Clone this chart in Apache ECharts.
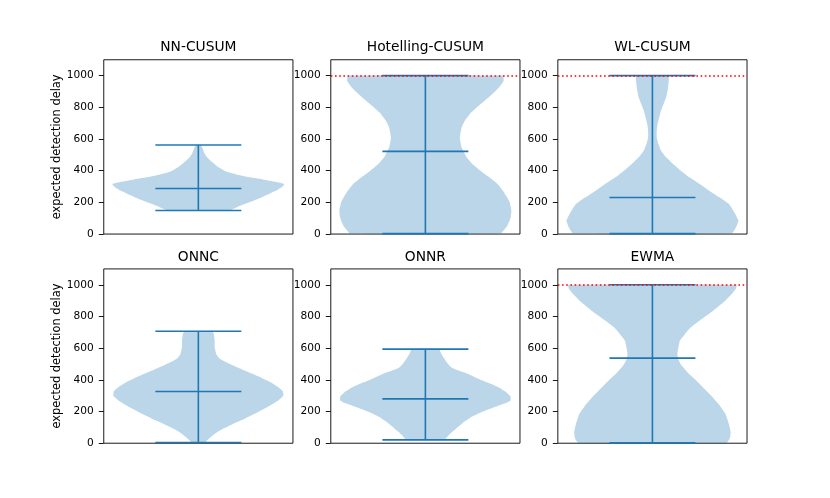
<!DOCTYPE html>
<html>
<head>
<meta charset="utf-8">
<script src="https://cdn.jsdelivr.net/npm/echarts@6/dist/echarts.min.js"></script>
<style>
  html, body { margin: 0; padding: 0; background: #ffffff; }
  #chart { width: 830px; height: 498px; }
</style>
</head>
<body>
<div id="chart"></div>
<script>
// Panel titles, in reading order
const titles = ['NN-CUSUM', 'Hotelling-CUSUM', 'WL-CUSUM', 'ONNC', 'ONNR', 'EWMA'];

// Extremes and means of each distribution
const minValues = [149, 3, 3, 5, 21, 2];
const maxValues = [562, 1000, 1000, 707, 594, 1000];
const meanValues = [288, 522, 231, 326, 280, 537];

// Horizon line, shown on the panels that hit it
const horizon = 1000;
const showHorizon = [false, true, true, false, false, true];

// Y tick labels
const yTicks = [0, 200, 400, 600, 800, 1000];

// Violin outlines: [delay, relative half width]
const nnCusum = [
  [149, 0.36], [160, 0.41], [173, 0.46], [194, 0.56], [215, 0.66], [236, 0.75], [258, 0.84],
  [278, 0.92], [300, 0.98], [316, 1.0], [330, 0.9], [345, 0.75], [366, 0.52], [393, 0.33],
  [420, 0.24], [450, 0.17], [480, 0.11], [510, 0.07], [540, 0.05], [562, 0.03]
];
const hotelling = [
  [3, 0.87], [50, 0.95], [100, 0.99], [147, 1.0], [200, 0.98], [232, 0.95], [275, 0.9],
  [316, 0.84], [360, 0.74], [400, 0.64], [440, 0.55], [484, 0.48], [550, 0.42], [610, 0.4],
  [670, 0.42], [716, 0.46], [760, 0.52], [800, 0.6], [850, 0.71], [895, 0.8], [935, 0.87],
  [968, 0.91], [1000, 0.9]
];
const wlCusum = [
  [3, 0.92], [40, 0.97], [84, 1.0], [130, 0.96], [189, 0.89], [232, 0.78], [274, 0.66],
  [316, 0.55], [358, 0.43], [400, 0.33], [442, 0.24], [484, 0.16], [526, 0.1], [568, 0.07],
  [610, 0.05], [652, 0.05], [695, 0.06], [737, 0.08], [779, 0.1], [821, 0.13], [863, 0.16],
  [916, 0.18], [968, 0.19], [1000, 0.19]
];
const onnc = [
  [5, 0.08], [17, 0.1], [50, 0.17], [80, 0.25], [110, 0.36], [143, 0.49], [185, 0.65],
  [227, 0.8], [270, 0.93], [301, 0.99], [330, 0.98], [354, 0.93], [385, 0.84], [417, 0.72],
  [450, 0.58], [480, 0.45], [510, 0.33], [533, 0.25], [560, 0.21], [606, 0.19], [650, 0.19],
  [690, 0.18], [707, 0.16]
];
const onnr = [
  [21, 0.22], [50, 0.27], [80, 0.33], [122, 0.42], [164, 0.53], [200, 0.67], [227, 0.8],
  [250, 0.92], [270, 0.99], [295, 0.99], [322, 0.94], [350, 0.86], [375, 0.76], [405, 0.62],
  [438, 0.49], [460, 0.38], [480, 0.3], [510, 0.25], [543, 0.21], [570, 0.18], [594, 0.16]
];
const ewma = [
  [2, 0.86], [30, 0.9], [69, 0.91], [120, 0.89], [185, 0.85], [240, 0.78], [290, 0.7],
  [340, 0.61], [396, 0.51], [440, 0.42], [490, 0.34], [530, 0.3], [564, 0.29], [600, 0.3],
  [648, 0.32], [690, 0.38], [733, 0.45], [775, 0.55], [817, 0.66], [860, 0.76], [901, 0.85],
  [940, 0.92], [975, 0.97], [1000, 0.98]
];
const profiles = [nnCusum, hotelling, wlCusum, onnc, onnr, ewma];

// layout, matplotlib default subplot box on an 830x498 figure
const gridLefts = [103.75, 330.79, 557.83];
const gridTops = [59.76, 268.92];
const gridW = 189.19;
const gridH = 174.3;

const blue = '#1f77b4';
const fill = 'rgba(31,119,180,0.3)';
const font = 'DejaVu Sans';
const center = 1;      // violin position
const halfWidth = 0.25; // widths=0.5
const capHalf = 0.125;

function violinRenderer(k) {
  return function (params, api) {
    const prof = profiles[k];
    const leftSide = prof.map(p => api.coord([center - p[1] * halfWidth, p[0]]));
    const rightSide = prof.slice().reverse().map(p => api.coord([center + p[1] * halfWidth, p[0]]));
    const lw = 1.6;
    const seg = (x1, y1, x2, y2) => {
      const a = api.coord([x1, y1]);
      const b = api.coord([x2, y2]);
      return {
        type: 'line',
        shape: { x1: a[0], y1: a[1], x2: b[0], y2: b[1] },
        style: { stroke: blue, lineWidth: lw }
      };
    };
    return {
      type: 'group',
      children: [
        {
          type: 'polygon',
          shape: { points: leftSide.concat(rightSide), smooth: 0.12 },
          style: { fill: fill }
        },
        seg(center, minValues[k], center, maxValues[k]),
        seg(center - capHalf, minValues[k], center + capHalf, minValues[k]),
        seg(center - capHalf, maxValues[k], center + capHalf, maxValues[k]),
        seg(center - capHalf, meanValues[k], center + capHalf, meanValues[k])
      ]
    };
  };
}

const grids = [], xAxes = [], yAxes = [], series = [], titleList = [];
titles.forEach((name, k) => {
  const col = k % 3, row = Math.floor(k / 3);
  grids.push({
    left: gridLefts[col], top: gridTops[row], width: gridW, height: gridH,
    show: true, borderColor: '#000', borderWidth: 0.9, backgroundColor: 'transparent'
  });
  xAxes.push({
    gridIndex: k, type: 'value', min: 0.725, max: 1.275,
    axisLine: { show: false }, axisTick: { show: false },
    axisLabel: { show: false }, splitLine: { show: false }
  });
  yAxes.push({
    gridIndex: k, type: 'value', min: 0, max: 1100,
    name: col === 0 ? 'expected detection delay' : '',
    nameLocation: 'middle', nameRotate: 90, nameGap: 39,
    nameTextStyle: { fontFamily: font, fontSize: 11.4, color: '#000' },
    axisLine: { show: false },
    axisTick: { show: true, inside: false, length: 5, customValues: yTicks,
      lineStyle: { color: '#000', width: 0.9 } },
    axisLabel: { show: true, margin: 10, customValues: yTicks,
      formatter: v => String(v),
      fontFamily: font, fontSize: 10.6, color: '#000' },
    splitLine: { show: false }
  });
  titleList.push({
    text: name,
    left: gridLefts[col] + gridW / 2,
    top: gridTops[row] - (row === 0 ? 19.5 : 18.5),
    textAlign: 'center',
    padding: 0,
    textStyle: { fontFamily: font, fontSize: 13.8, fontWeight: 'normal', color: '#000' }
  });
  const s = {
    type: 'custom',
    xAxisIndex: k, yAxisIndex: k,
    data: [[center, meanValues[k]]],
    renderItem: violinRenderer(k),
    silent: true,
    animation: false
  };
  if (showHorizon[k]) {
    s.markLine = {
      silent: true, symbol: 'none', animation: false,
      label: { show: false },
      lineStyle: { color: '#ff0000', width: 1.6, type: [1.6, 2.6], opacity: 1 },
      data: [{ yAxis: horizon }]
    };
  }
  series.push(s);
});

const chart = echarts.init(document.getElementById('chart'), null, { renderer: 'canvas' });
chart.setOption({
  animation: false,
  backgroundColor: '#ffffff',
  title: titleList,
  grid: grids,
  xAxis: xAxes,
  yAxis: yAxes,
  series: series
});
</script>
</body>
</html>
